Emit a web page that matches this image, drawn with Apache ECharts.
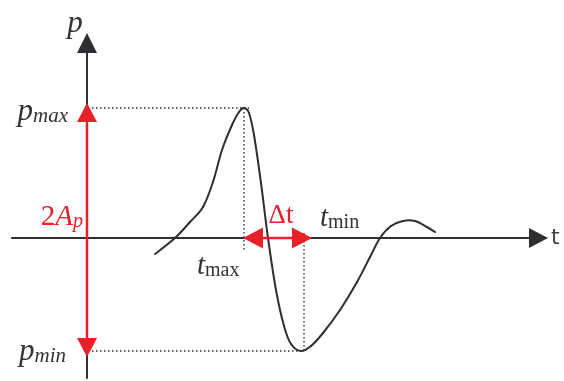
<!DOCTYPE html>
<html>
<head>
<meta charset="utf-8">
<script src="https://cdn.jsdelivr.net/npm/echarts@6/dist/echarts.min.js"></script>
<style>
  html, body { margin: 0; background: #fff; }
  #chart { width: 564px; height: 381px; }
</style>
</head>
<body>
<div id="chart"></div>
<script>
// units: t and p measured from the origin of the sketch
// pressure pulse
const curveT = [68, 88, 103, 116, 126, 135, 145, 152, 157, 162, 167, 174, 181, 189, 197, 204, 214, 224, 236, 253, 270, 283, 293, 304, 316, 328, 340, 348];
const curveP = [-16, 0, 16, 31, 56, 88, 113, 126, 130, 125, 103, 55, 0, -52, -88, -106, -113, -108, -95, -72, -44, -19, 0, 12, 17, 17, 11, 6];

// reference levels
const pMax = 130;
const pMin = -113;
const tMax = 157;
const tMin = 217;

// arrow heads (centres) of 2Ap and Δt
const ampHeads = [125.5, -109.5];
const dtHeads = [166, 215];

// text annotations
const noteText = ['{pi|p}', '{pi|p}{ps|max}', '{pi|p}{ps|min}', '{r|2}{ri|A}{rs|p}', '{rd|Δt}', '{ti|t}{ts|min}', '{ti|t}{ts|max}', '{ax|t}'];
const noteT = [-12, -19, -21, -4, 194, 233, 110, 464];
const noteP = [216, 128, -112, 23, 22, 22, -26, 0];
const noteAlign = ['center', 'right', 'right', 'right', 'center', 'left', 'left', 'left'];

const ink = '#2f2f33';
const red = '#e8202a';
const serif = '"Liberation Serif", "DejaVu Serif", serif';

const chart = echarts.init(document.getElementById('chart'), null, { renderer: 'canvas' });

const guides = [
  [[5, pMax], [tMax + 5, pMax]],
  [[tMax, pMax], [tMax, -12]],
  [[tMin, 5], [tMin, pMin]],
  [[5, pMin], [tMin - 6, pMin]]
];

const series = [];

guides.forEach(g => {
  series.push({
    type: 'line',
    data: g,
    symbol: 'none',
    silent: true,
    lineStyle: { color: ink, width: 1.4, type: [1.5, 2.5] },
    z: 1
  });
});

// the pulse: catmull-rom through the read points, mapped by the axes
series.push({
  type: 'custom',
  name: 'pulse',
  data: [[curveT[0], curveP[0]]],
  silent: true,
  clip: false,
  renderItem: function (params, api) {
    const pts = curveT.map((t, i) => api.coord([t, curveP[i]]));
    const n = pts.length;
    const kids = [];
    for (let i = 0; i < n - 1; i++) {
      const p0 = pts[Math.max(i - 1, 0)];
      const p1 = pts[i];
      const p2 = pts[i + 1];
      const p3 = pts[Math.min(i + 2, n - 1)];
      kids.push({
        type: 'bezierCurve',
        shape: {
          x1: p1[0], y1: p1[1],
          x2: p2[0], y2: p2[1],
          cpx1: p1[0] + (p2[0] - p0[0]) / 6,
          cpy1: p1[1] + (p2[1] - p0[1]) / 6,
          cpx2: p2[0] - (p3[0] - p1[0]) / 6,
          cpy2: p2[1] - (p3[1] - p1[1]) / 6
        },
        style: { stroke: ink, lineWidth: 2, fill: null, lineCap: 'round' }
      });
    }
    return { type: 'group', children: kids };
  },
  z: 3
});

series.push({
  type: 'line',
  data: [
    { value: [0, ampHeads[0]], symbolRotate: 0 },
    { value: [0, ampHeads[1]], symbolRotate: 180 }
  ],
  symbol: 'triangle',
  symbolSize: [20, 19],
  showSymbol: true,
  silent: true,
  itemStyle: { color: red, borderWidth: 0 },
  lineStyle: { color: red, width: 2.5 },
  z: 5
});

series.push({
  type: 'line',
  data: [
    { value: [dtHeads[0], 0], symbolRotate: 90 },
    { value: [dtHeads[1], 0], symbolRotate: -90 }
  ],
  symbol: 'triangle',
  symbolSize: [21, 20],
  showSymbol: true,
  silent: true,
  itemStyle: { color: red, borderWidth: 0 },
  lineStyle: { color: red, width: 2.5 },
  z: 5
});

series.push({
  type: 'scatter',
  data: noteT.map((t, i) => ({
    value: [t, noteP[i]],
    label: { formatter: noteText[i], align: noteAlign[i] }
  })),
  symbolSize: 0,
  clip: false,
  silent: true,
  itemStyle: { opacity: 1 },
  label: {
    show: true,
    position: 'inside',
    verticalAlign: 'middle',
    opacity: 1,
    rich: {
      pi: { fontFamily: serif, fontStyle: 'italic', fontSize: 31, color: '#333', verticalAlign: 'bottom', lineHeight: 34 },
      ps: { fontFamily: serif, fontStyle: 'italic', fontSize: 21, color: '#333', verticalAlign: 'bottom', lineHeight: 28 },
      r: { fontFamily: serif, fontSize: 29, color: red, verticalAlign: 'bottom', lineHeight: 34 },
      ri: { fontFamily: serif, fontStyle: 'italic', fontSize: 29, color: red, verticalAlign: 'bottom', lineHeight: 34 },
      rs: { fontFamily: serif, fontStyle: 'italic', fontSize: 20, color: red, verticalAlign: 'bottom', lineHeight: 20 },
      rd: { fontFamily: serif, fontSize: 27, color: red },
      ti: { fontFamily: serif, fontStyle: 'italic', fontSize: 29, color: '#333', verticalAlign: 'bottom', lineHeight: 34 },
      ts: { fontFamily: serif, fontSize: 20, color: '#333', verticalAlign: 'bottom', lineHeight: 30 },
      ax: { fontFamily: '"DejaVu Sans", sans-serif', fontSize: 22, color: '#444' }
    }
  },
  z: 6
});

chart.setOption({
  animation: false,
  backgroundColor: '#fff',
  grid: { left: 12, right: 25.5, top: 43, bottom: 3 },
  xAxis: {
    type: 'value',
    min: -75,
    max: 451.5,
    axisLine: {
      show: true,
      onZero: true,
      symbol: ['none', 'triangle'],
      symbolSize: [20, 19],
      lineStyle: { color: ink, width: 2 }
    },
    axisTick: { show: false },
    axisLabel: { show: false },
    splitLine: { show: false }
  },
  yAxis: {
    type: 'value',
    min: -140,
    max: 195,
    axisLine: {
      show: true,
      onZero: true,
      symbol: ['none', 'triangle'],
      symbolSize: [20, 20],
      lineStyle: { color: ink, width: 2 }
    },
    axisTick: { show: false },
    axisLabel: { show: false },
    splitLine: { show: false }
  },
  series: series
});
</script>
</body>
</html>
